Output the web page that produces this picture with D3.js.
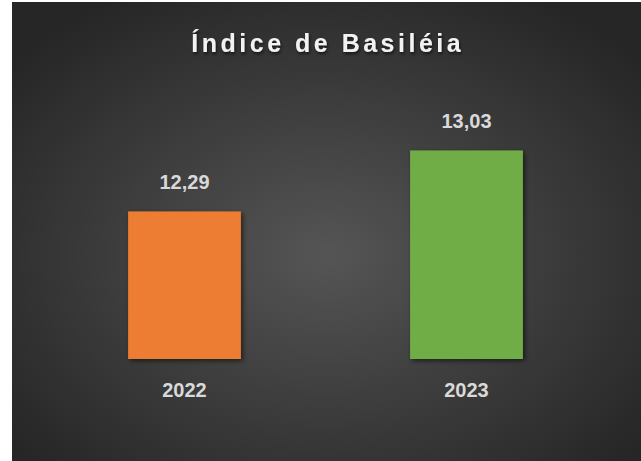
<!DOCTYPE html>
<html>
<head>
<meta charset="utf-8">
<script src="https://cdn.jsdelivr.net/npm/d3@7"></script>
<style>
  body { margin: 0; background: #fff; }
  text { font-family: "Liberation Sans", Arial, sans-serif; font-weight: bold; }
</style>
</head>
<body>
<div id="chart"></div>
<script>
// data
var titleText = "Índice de Basiléia";
var years = ["2022", "2023"];
var values = [12.29, 13.03];
var labels = ["12,29", "13,03"];
var colors = ["#ED7D31", "#70AD47"];

var width = 641, height = 461;

var svg = d3.select("#chart")
    .append("svg")
    .attr("width", width)
    .attr("height", height);

var defs = svg.append("defs");

// background gradient (dark, lighter in the middle)
var grad = defs.append("radialGradient")
    .attr("id", "bg")
    .attr("cx", "50%").attr("cy", "55%").attr("r", "65%");
grad.append("stop").attr("offset", "0%").attr("stop-color", "#555555");
grad.append("stop").attr("offset", "100%").attr("stop-color", "#262626");

var shadow = defs.append("filter")
    .attr("id", "shadow")
    .attr("x", "-20%").attr("y", "-20%").attr("width", "140%").attr("height", "140%");
shadow.append("feDropShadow")
    .attr("dx", 2).attr("dy", 2).attr("stdDeviation", 2.5)
    .attr("flood-color", "#000").attr("flood-opacity", 0.55);

var tshadow = defs.append("filter")
    .attr("id", "tshadow")
    .attr("x", "-10%").attr("y", "-30%").attr("width", "120%").attr("height", "160%");
tshadow.append("feDropShadow")
    .attr("dx", 1).attr("dy", 2).attr("stdDeviation", 1.5)
    .attr("flood-color", "#000").attr("flood-opacity", 0.6);

svg.append("rect")
    .attr("x", 12).attr("y", 2)
    .attr("width", width - 12).attr("height", height - 2)
    .attr("fill", "url(#bg)");

// scales
var x = d3.scaleBand()
    .domain(years)
    .range([43.5, 607.5])
    .paddingInner(0.6)
    .paddingOuter(0.3);

var y = d3.scaleLinear()
    .domain([10.5, 13.5])
    .range([359, 111.7]);

// title
svg.append("text")
    .attr("x", 326 + 1.75)
    .attr("y", 52)
    .attr("text-anchor", "middle")
    .style("font-size", "25px")
    .style("letter-spacing", "3.5px")
    .attr("fill", "#f2f2f2")
    .attr("filter", "url(#tshadow)")
    .text(titleText);

// bars
svg.append("g").selectAll(".bar")
    .data(values)
    .enter().append("rect")
    .attr("class", "bar")
    .attr("x", function(d, i) { return x(years[i]); })
    .attr("width", x.bandwidth())
    .attr("y", function(d) { return y(d); })
    .attr("height", function(d) { return y(10.5) - y(d); })
    .attr("fill", function(d, i) { return colors[i]; })
    .attr("filter", "url(#shadow)");

// value labels
svg.append("g").selectAll(".lbl")
    .data(values)
    .enter().append("text")
    .attr("class", "lbl")
    .attr("x", function(d, i) { return x(years[i]) + x.bandwidth() / 2; })
    .attr("y", function(d) { return y(d) - 22; })
    .attr("text-anchor", "middle")
    .style("font-size", "20px")
    .attr("fill", "#d9d9d9")
    .text(function(d, i) { return labels[i]; });

// x axis labels
var xAxis = d3.axisBottom(x).tickSize(0).tickPadding(0);
var ax = svg.append("g")
    .attr("transform", "translate(0,359)")
    .call(xAxis);
ax.select(".domain").remove();
ax.selectAll("text")
    .attr("dy", null)
    .attr("y", 38)
    .style("font-size", "20px")
    .attr("fill", "#d9d9d9");
</script>
</body>
</html>
